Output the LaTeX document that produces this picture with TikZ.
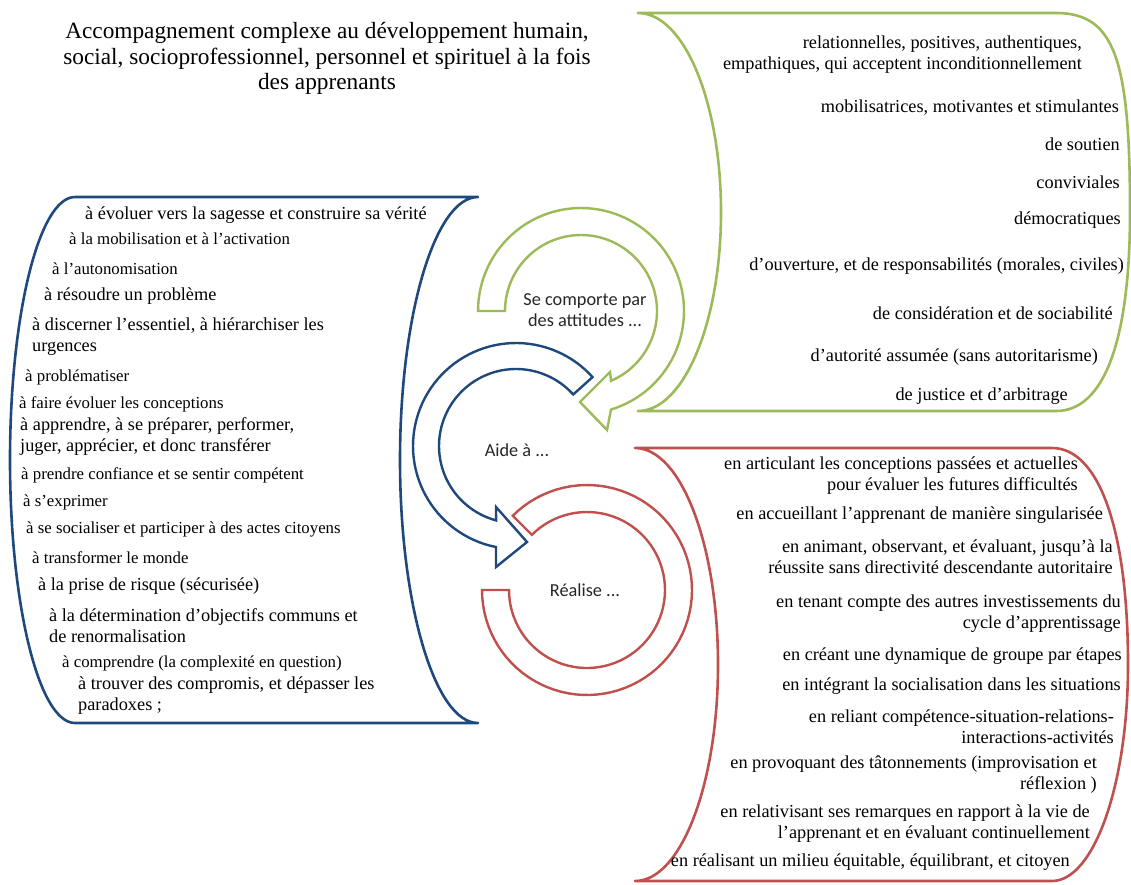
\documentclass[tikz,border=0pt]{standalone}
\usepackage{fontspec}
\setmainfont{Liberation Serif}
\newfontfamily\calibrifont{Carlito}

\definecolor{scrollgreen}{HTML}{9BBB59}
\definecolor{scrollblue}{HTML}{1F497D}
\definecolor{scrollred}{HTML}{C0504D}

\tikzset{
    scrollline/.style={line width=2.6pt, line join=round},
    ringline/.style={line width=2.4pt, line join=miter, fill=white},
    lefttxt/.style={anchor=west, inner sep=0pt, align=left},
    righttxt/.style={anchor=east, inner sep=0pt, align=right},
    bigsize/.style={font=\fontsize{18.3}{21}\selectfont},
    smallsize/.style={font=\fontsize{16.8}{20}\selectfont},
    titletext/.style={inner sep=0pt, align=center, font=\fontsize{23.3}{25.5}\selectfont},
    centerlabel/.style={inner sep=0pt, align=center, text=black!85,
        font=\calibrifont\fontsize{18.3}{21}\selectfont}
}

\begin{document}
\begin{tikzpicture}[x=1pt, y=-1pt]
    \useasboundingbox (0,0) rectangle (1131,884);

    % scroll shapes
    \draw[scrollline, draw=scrollgreen] (638,13) -- (1056,13)
        .. controls (1115,13) and (1130,60) .. (1130,212)
        .. controls (1130,341) and (1104,411) .. (1056,411) -- (638,411)
        .. controls (684,411) and (721,322) .. (721,212)
        .. controls (721,102) and (684,13) .. (638,13) -- cycle;
    \draw[scrollline, draw=scrollblue] (75,197) -- (478,197)
        .. controls (435,197) and (400,315) .. (400,460)
        .. controls (400,605) and (435,723) .. (478,723) -- (75,723)
        .. controls (39,723) and (10,605) .. (10,460)
        .. controls (10,315) and (39,197) .. (75,197) -- cycle;
    \draw[scrollline, draw=scrollred] (635,448) -- (1052,448)
        .. controls (1099,448) and (1128,530) .. (1128,664.5)
        .. controls (1128,784) and (1094,881) .. (1052,881) -- (635,881)
        .. controls (681,881) and (718,784) .. (718,664.5)
        .. controls (718,545) and (681,448) .. (635,448) -- cycle;

    % circular arrows
    \draw[ringline, draw=scrollred]
        plot[domain=-135:180, samples=80] ({587+105*cos(\x)}, {590+105*sin(\x)})
        -- plot[domain=180:-135, samples=80] ({587+78*cos(\x)}, {590+78*sin(\x)}) -- cycle;
    \draw[ringline, draw=scrollblue]
        plot[domain=-42:-258.8, samples=70] ({516+103*cos(\x)}, {446+103*sin(\x)})
        -- (496,567) -- (527,542) -- (496,507)
        -- plot[domain=-255:-42, samples=70] ({516+77*cos(\x)}, {446+77*sin(\x)}) -- cycle;
    \draw[ringline, draw=scrollgreen]
        plot[domain=180:433.06, samples=80] ({581+103*cos(\x)}, {311+103*sin(\x)})
        -- (607,430) -- (580,402) -- (610,372)
        -- plot[domain=426.7:180, samples=80] ({581+76*cos(\x)}, {311+76*sin(\x)}) -- cycle;

    % labels in the middle
    \node[centerlabel] (comporte) at (585,310) {Se comporte par\\des attitudes ...};
    \node[centerlabel] (aide) at (517,450) {Aide à ...};
    \node[centerlabel] (realise) at (585,590) {Réalise ...};

    % title
    \node[titletext] (title) at (327,58.5) {Accompagnement complexe au développement humain,\\
        social, socioprofessionnel, personnel et spirituel à la fois\\des apprenants};

    % attitudes (green)
    \node[righttxt, bigsize] (relation) at (1082,54.5) {relationnelles, positives, authentiques,\\
        empathiques, qui acceptent inconditionnellement};
    \node[righttxt, bigsize] (mobilis) at (1119,108) {mobilisatrices, motivantes et stimulantes};
    \node[righttxt, bigsize] (soutien) at (1120,144) {de soutien};
    \node[righttxt, bigsize] (convivial) at (1120,182) {conviviales};
    \node[righttxt, bigsize] (democrat) at (1121,220) {démocratiques};
    \node[righttxt, bigsize] (ouverture) at (1124,266) {d’ouverture, et de responsabilités (morales, civiles)};
    \node[righttxt, bigsize] (consider) at (1113,313) {de considération et de sociabilité};
    \node[righttxt, bigsize] (autorite) at (1098,357) {d’autorité assumée (sans autoritarisme)};
    \node[righttxt, bigsize] (justice) at (1068,396) {de justice et d’arbitrage};

    % aide (blue)
    \node[lefttxt, bigsize] (sagesse) at (85,215) {à évoluer vers la sagesse et construire sa vérité};
    \node[lefttxt, smallsize] (mobil) at (69,239) {à la mobilisation et à l’activation};
    \node[lefttxt, smallsize] (autonom) at (52,269) {à l’autonomisation};
    \node[lefttxt, bigsize] (resoudre) at (44,296) {à résoudre un problème};
    \node[lefttxt, bigsize] (discerner) at (32,336.5) {à discerner l’essentiel, à hiérarchiser les\\urgences};
    \node[lefttxt, smallsize] (problem) at (25,377) {à problématiser};
    \node[lefttxt, smallsize] (concept) at (19,404) {à faire évoluer les conceptions};
    \node[lefttxt, bigsize] (apprendre) at (20,436.5) {à apprendre, à se préparer, performer,\\
        juger, apprécier, et donc transférer};
    \node[lefttxt, smallsize] (confiance) at (21,475) {à prendre confiance et se sentir compétent};
    \node[lefttxt, smallsize] (exprimer) at (23,502) {à s’exprimer};
    \node[lefttxt, smallsize] (social) at (26,529) {à se socialiser et participer à des actes citoyens};
    \node[lefttxt, smallsize] (monde) at (32,558) {à transformer le monde};
    \node[lefttxt, bigsize] (risque) at (38,586) {à la prise de risque (sécurisée)};
    \node[lefttxt, bigsize] (objectif) at (49,625.5) {à la détermination d’objectifs communs et\\
        de renormalisation};
    \node[lefttxt, smallsize] (comprendre) at (62,663) {à comprendre (la complexité en question)};
    \node[lefttxt, bigsize] (compromis) at (78,695.5) {à trouver des compromis, et dépasser les\\
        paradoxes ;};

    % realise (red)
    \node[righttxt, bigsize] (articul) at (1078,475.5) {en articulant les conceptions passées et actuelles\\
        pour évaluer les futures difficultés};
    \node[righttxt, bigsize] (accueil) at (1103,515) {en accueillant l’apprenant de manière singularisée};
    \node[righttxt, bigsize] (animant) at (1113,557) {en animant, observant, et évaluant, jusqu’à la\\
        réussite sans directivité descendante autoritaire};
    \node[righttxt, bigsize] (tenant) at (1121,614) {en tenant compte des autres investissements du\\
        cycle d’apprentissage};
    \node[righttxt, bigsize] (creant) at (1122,656) {en créant une dynamique de groupe par étapes};
    \node[righttxt, bigsize] (integr) at (1121,686) {en intégrant la socialisation dans les situations};
    \node[righttxt, bigsize] (reliant) at (1114,726.5) {en reliant compétence-situation-relations-\\
        interactions-activités};
    \node[righttxt, bigsize] (provoq) at (1097,775) {en provoquant des tâtonnements (improvisation et\\
        réflexion )};
    \node[righttxt, bigsize] (relativ) at (1090,824) {en relativisant ses remarques en rapport à la vie de\\
        l’apprenant et en évaluant continuellement};
    \node[righttxt, bigsize] (milieu) at (1070,862) {en réalisant un milieu équitable, équilibrant, et citoyen};
\end{tikzpicture}
\end{document}
